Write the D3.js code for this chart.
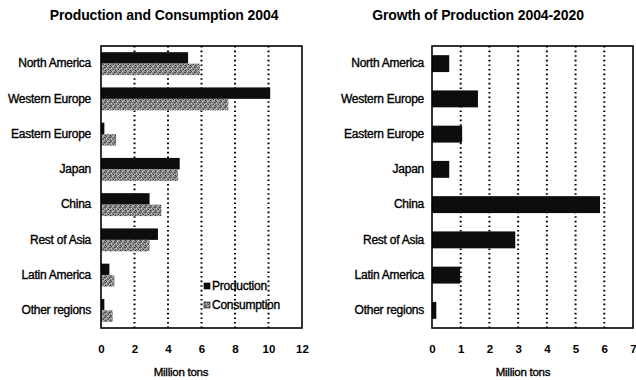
<!DOCTYPE html>
<html>
<head>
<meta charset="utf-8">
<script src="https://cdn.jsdelivr.net/npm/d3@7"></script>
<style>
  html, body { margin: 0; padding: 0; background: #fff; }
  svg { display: block; font-family: "Liberation Sans", Arial, sans-serif; }
  .lbl { font-size: 12px; letter-spacing: -0.25px; fill: #000; stroke: #000; stroke-width: 0.35px; }
  .title { font-size: 14px; font-weight: bold; fill: #000; letter-spacing: -0.1px; }
  .tick-num { font-size: 11.5px; font-weight: bold; fill: #000; }
</style>
</head>
<body>
<svg id="chart" width="636" height="380"></svg>
<script>
// Regions shown on both panels
const regions = ["North America", "Western Europe", "Eastern Europe", "Japan",
                 "China", "Rest of Asia", "Latin America", "Other regions"];
// 2004 volumes, million tons
const production2004  = [5.2, 10.1, 0.2, 4.7, 2.9, 3.4, 0.5, 0.2];
const consumption2004 = [5.9, 7.6, 0.9, 4.6, 3.6, 2.9, 0.8, 0.7];
// Additional production expected between 2004 and 2020, million tons
const growth2004to2020 = [0.6, 1.6, 1.05, 0.6, 5.85, 2.9, 0.98, 0.15];
// Axis tick labels
const leftTicks  = [0, 2, 4, 6, 8, 10, 12];
const rightTicks = [0, 1, 2, 3, 4, 5, 6, 7];
const seriesNames = ["Production", "Consumption"];
const titles = ["Production and Consumption 2004", "Growth of Production 2004-2020"];
const axisTitle = "Million tons";

const svg = d3.select("#chart");

// Speckled grey fill for the consumption bars
const defs = svg.append("defs");
const pat = defs.append("pattern")
  .attr("id", "dither").attr("patternUnits", "userSpaceOnUse")
  .attr("width", 5).attr("height", 5);
pat.append("rect").attr("width", 5).attr("height", 5).attr("fill", "#8c8c8c");
[[0,0,"#333"],[2,1,"#c8c8c8"],[4,2,"#444"],[1,3,"#d0d0d0"],[3,4,"#3a3a3a"],
 [3,0,"#b8b8b8"],[0,2,"#555"],[2,3,"#666"],[4,4,"#bbb"],[1,1,"#505050"]]
  .forEach(([x, y, c]) => pat.append("rect").attr("x", x).attr("y", y)
    .attr("width", 1).attr("height", 1).attr("fill", c));

const plotTop = 46, plotBottom = 328;

function drawPanel(cfg) {
  const x = d3.scaleLinear().domain([0, cfg.max]).range([cfg.x0, cfg.x1]);
  const y = d3.scaleBand().domain(regions).range([plotTop, plotBottom])
    .paddingInner(cfg.padIn).paddingOuter(cfg.padIn / 2);
  const g = svg.append("g");

  // dotted vertical gridlines
  g.selectAll("line.grid").data(cfg.ticks.filter(t => t > 0 && t < cfg.max))
    .join("line").attr("class", "grid")
    .attr("x1", d => x(d)).attr("x2", d => x(d))
    .attr("y1", plotTop).attr("y2", plotBottom)
    .attr("stroke", "#000").attr("stroke-width", 2)
    .attr("stroke-dasharray", "1.6,3");

  cfg.drawBars(g, x, y);

  // frame
  g.append("rect").attr("x", cfg.x0).attr("y", plotTop)
    .attr("width", cfg.x1 - cfg.x0).attr("height", plotBottom - plotTop)
    .attr("fill", "none").attr("stroke", "#000").attr("stroke-width", 1.6);

  // category labels
  const yAxis = d3.axisLeft(y).tickSize(0).tickPadding(cfg.x0 - cfg.labelEnd);
  const ya = g.append("g").attr("transform", `translate(${cfg.x0},0)`).call(yAxis);
  ya.select(".domain").remove();
  ya.selectAll("text").attr("class", "lbl").attr("font-family", null).attr("font-size", null);

  // value axis numbers
  const xAxis = d3.axisBottom(x).tickValues(cfg.ticks).tickSize(0).tickPadding(0)
    .tickFormat(d3.format("d"));
  const xa = g.append("g").attr("transform", `translate(0,${plotBottom + 17})`).call(xAxis);
  xa.select(".domain").remove();
  xa.selectAll("text").attr("class", "tick-num").attr("font-family", null).attr("font-size", null);

  g.append("text").attr("class", "lbl").attr("x", cfg.axisTitleX).attr("y", 376)
    .attr("text-anchor", "middle").style("font-size", "11.5px").text(axisTitle);

  g.append("text").attr("class", "title").attr("x", cfg.titleX).attr("y", 20)
    .attr("text-anchor", "middle").text(cfg.title);
  return { x, y };
}

// Left panel: grouped production / consumption bars
drawPanel({
  x0: 101, x1: 302, max: 12, ticks: leftTicks, padIn: 0.35, labelEnd: 91,
  title: titles[0], titleX: 164, axisTitleX: 181,
  drawBars(g, x, y) {
    const half = y.bandwidth() / 2;
    g.selectAll("rect.prod").data(regions).join("rect").attr("class", "prod")
      .attr("x", x(0)).attr("y", d => y(d))
      .attr("width", (d, i) => x(production2004[i]) - x(0)).attr("height", half)
      .attr("fill", "#0d0d0d");
    g.selectAll("rect.cons").data(regions).join("rect").attr("class", "cons")
      .attr("x", x(0)).attr("y", d => y(d) + half)
      .attr("width", (d, i) => x(consumption2004[i]) - x(0)).attr("height", half)
      .attr("fill", "url(#dither)");

    // legend
    const lg = g.append("g");
    const fills = ["#0d0d0d", "url(#dither)"];
    seriesNames.forEach((name, i) => {
      const cy = 286 + i * 19;
      lg.append("rect").attr("x", 204).attr("y", cy - 3).attr("width", 6).attr("height", 6)
        .attr("fill", fills[i]).attr("stroke", "#000").attr("stroke-width", 0.6);
      lg.append("text").attr("class", "lbl").attr("x", 212).attr("y", cy)
        .attr("dy", "0.35em").text(name);
    });
  }
});

// Right panel: production growth
drawPanel({
  x0: 432, x1: 633, max: 7, ticks: rightTicks, padIn: 0.52, labelEnd: 424,
  title: titles[1], titleX: 478, axisTitleX: 523,
  drawBars(g, x, y) {
    g.selectAll("rect.grow").data(regions).join("rect").attr("class", "grow")
      .attr("x", x(0)).attr("y", d => y(d))
      .attr("width", (d, i) => x(growth2004to2020[i]) - x(0)).attr("height", y.bandwidth())
      .attr("fill", "#0d0d0d");
  }
});
</script>
</body>
</html>
